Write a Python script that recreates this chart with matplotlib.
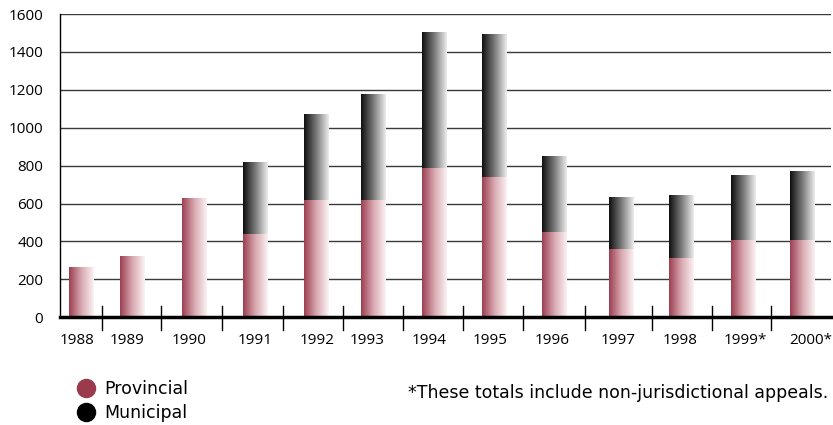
import numpy as np
import matplotlib.pyplot as plt
from matplotlib.colors import LinearSegmentedColormap
from matplotlib.lines import Line2D

# ---------- Данные ----------
years = ["1988", "1989", "1990", "1991", "1992", "1993", "1994",
         "1995", "1996", "1997", "1998", "1999*", "2000*"]
provincial = [265, 325, 630, 440, 620, 620, 790, 740, 450, 360, 315, 410, 410]
municipal = [0, 0, 0, 380, 450, 560, 715, 755, 400, 275, 330, 340, 360]
note = "*These totals include non-jurisdictional appeals."

# ---------- Раскладка (в пикселях картинки, ось начинается с 60) ----------
bar_x = [81.5, 132.5, 194, 255.5, 316.5, 373.5, 434.5,
         494.5, 554.5, 621.5, 681.5, 743.5, 802.5]
label_x = [77, 127.5, 189.5, 255.5, 317, 367, 429,
           490, 552, 618.5, 680, 745.5, 810.5]
sep_x = [101.7, 161.3, 222.3, 283.3, 343.3, 403.3,
         463.3, 523.3, 585, 651.7, 711.7, 771.3]
BAR_W = 25

FONT = ["Open Sans", "DejaVu Sans"]
WIDE = ["DejaVu Sans"]   # у подписей внизу заметная разрядка — берём шрифт пошире
plt.rcParams["font.family"] = FONT

prov_cmap = LinearSegmentedColormap.from_list("prov", ["#9c4052", "#d9a9b1", "#fbf2f3"])
muni_cmap = LinearSegmentedColormap.from_list("muni", ["#101010", "#7a7a7a", "#ececec"])
grad = np.linspace(0, 1, 64).reshape(1, -1)

fig = plt.figure(figsize=(8.33, 4.25), dpi=100)
ax = fig.add_axes([60 / 833, 107.7 / 425, 771 / 833, 303.3 / 425])

# сетка под столбиками
for v in range(200, 1601, 200):
    ax.axhline(v, color="#3a3a3a", lw=1.0, zorder=1)


def gradient_bars(bars, cmap):
    # каждому прямоугольнику — своя градиентная картинка, обрезанная по нему
    for b in bars:
        if b.get_height() <= 0:
            continue
        x0, y0 = b.get_x(), b.get_y()
        im = ax.imshow(grad, cmap=cmap, aspect="auto", zorder=2,
                       extent=[x0, x0 + b.get_width(), y0, y0 + b.get_height()])
        im.set_clip_path(b)
        b.set_facecolor("none")


p_bars = ax.bar(bar_x, provincial, width=BAR_W, zorder=2, lw=0)
m_bars = ax.bar(bar_x, municipal, bottom=provincial, width=BAR_W, zorder=2, lw=0)
gradient_bars(p_bars, prov_cmap)
gradient_bars(m_bars, muni_cmap)
ax.set_xlim(60, 831)
ax.set_ylim(0, 1600)

# разделители между годами
trans = ax.get_xaxis_transform()
for sx in sep_x:
    ax.plot([sx, sx], [-0.043, 0.036], color="black", lw=1.0,
            transform=trans, clip_on=False, zorder=4)

for s in ["top", "right"]:
    ax.spines[s].set_visible(False)
ax.spines["left"].set_linewidth(1.0)
ax.spines["bottom"].set_linewidth(2.5)
ax.spines["bottom"].set_zorder(5)

ax.set_yticks(range(0, 1601, 200))
ax.tick_params(axis="y", length=0, pad=12, labelsize=11)
ax.set_xticks(label_x)
ax.set_xticklabels(years)
ax.tick_params(axis="x", length=0, pad=11, labelsize=11)

handles = [Line2D([], [], marker="o", ls="", ms=13, color="#9b3a4c"),
           Line2D([], [], marker="o", ls="", ms=13, color="black")]
fig.legend(handles, ["Provincial", "Municipal"], loc="upper left",
           bbox_to_anchor=(69 / 833, 1 - 380 / 425), frameon=False,
           prop={"family": WIDE, "size": 12.5}, handletextpad=0.05,
           labelspacing=0.35, borderpad=0, borderaxespad=0)

fig.text(828 / 833, 1 - 393 / 425, note, ha="right", va="center",
         family=WIDE, fontsize=12.5)

fig.savefig("out.png", dpi=100)
